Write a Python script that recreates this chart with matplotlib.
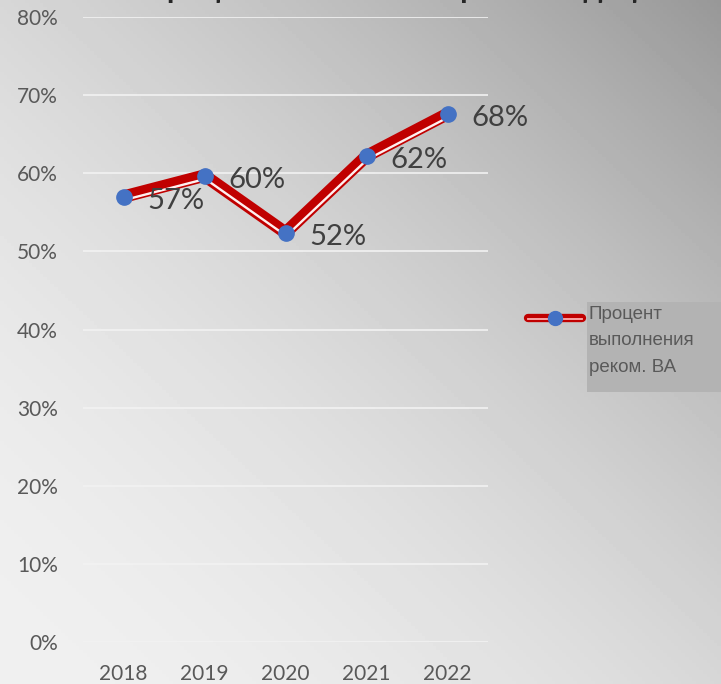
import numpy as np
import matplotlib.pyplot as plt
import matplotlib.transforms as mtransforms
from matplotlib.lines import Line2D
from matplotlib.patches import Rectangle

years = ['2018', '2019', '2020', '2021', '2022']
percent = [0.570, 0.597, 0.524, 0.622, 0.676]
point_labels = ['57%', '60%', '52%', '62%', '68%']
series_name = 'Процент\nвыполнения\nреком. ВА'
title_text = 'Процент выполнения рекомендаций ВА'

W, H = 721, 684
fig = plt.figure(figsize=(W / 100, H / 100), dpi=100)

# diagonal gradient background: light bottom-left -> dark top-right
bg = fig.add_axes([0, 0, 1, 1], zorder=-10)
u, v = np.meshgrid(np.linspace(0, 1, 200), np.linspace(1, 0, 200))
t = (u + v) / 2
shade = (0xf0 - (0xf0 - 0x98) * t ** 1.8) / 255.0
bg.imshow(shade, cmap='gray', vmin=0, vmax=1, extent=[0, 1, 0, 1], aspect='auto')
bg.set_xlim(0, 1)
bg.set_ylim(0, 1)
bg.axis('off')

ax = fig.add_axes([83 / W, 42 / H, 405 / W, 625 / H])
ax.patch.set_alpha(0)
for s in ax.spines.values():
    s.set_visible(False)

x = np.arange(len(years))
ax.set_xlim(-0.5, len(years) - 0.5)
ax.set_ylim(0, 0.8)
yt = np.arange(0, 0.81, 0.1)
ax.set_yticks(yt)
ax.set_yticklabels([f'{int(round(v * 100))}%' for v in yt])
ax.set_xticks(x)
ax.set_xticklabels(years)
ax.tick_params(axis='both', length=0, colors='#595959', labelsize=15)
ax.tick_params(axis='y', pad=18)
ax.tick_params(axis='x', pad=15.5)
for lab in ax.get_xticklabels() + ax.get_yticklabels():
    lab.set_family('Lato')
ax.grid(axis='y', color='#f2f2f2', lw=1.4, alpha=0.85)
ax.set_axisbelow(True)

# compound red/white line
ax.plot(x, percent, color='#c00000', lw=9, solid_capstyle='round',
        solid_joinstyle='miter', zorder=3)
shift = mtransforms.ScaledTranslation(0.6 / 72, -2.4 / 72, fig.dpi_scale_trans)
ax.plot(x, percent, color='#fff0f0', lw=1.7, solid_capstyle='butt',
        transform=ax.transData + shift, zorder=4)
ax.plot(x, percent, ls='none', marker='o', ms=11, mfc='#4472c4',
        mec='#4472c4', zorder=5)

for xi, yi, lab in zip(x, percent, point_labels):
    ax.annotate(lab, (xi, yi), xytext=(17, -3), textcoords='offset points',
                ha='left', va='center', fontsize=21, color='#404040',
                family='Lato', zorder=6)

# legend, drawn by hand so the key sits on the first text line
fig.add_artist(Rectangle((587 / W, 1 - 392 / H), (W - 587) / W, 90 / H,
                         transform=fig.transFigure, facecolor='#b3b3b3',
                         edgecolor='none', zorder=1))
fig.text(589 / W, 1 - 306 / H, series_name, ha='left', va='top',
         fontsize=13.5, color='#595959', family='Liberation Sans',
         linespacing=1.72, zorder=2)
ky = 1 - 318 / H
kx = [528 / W, 582 / W]
fig.add_artist(Line2D(kx, [ky, ky], transform=fig.transFigure, color='#c00000',
                      lw=6, solid_capstyle='round', zorder=2))
fig.add_artist(Line2D(kx, [ky - 1.5 / H, ky - 1.5 / H], transform=fig.transFigure,
                      color='#ffb0b0', lw=1.3, zorder=3))
fig.add_artist(Line2D([555 / W], [ky], transform=fig.transFigure, ls='none',
                      marker='o', ms=10, mfc='#4472c4', mec='#4472c4', zorder=4))

# title cut off at the top edge (only descenders show, as in the source)
fig.text(0.60, 1.003, title_text, ha='center', va='baseline', fontsize=22,
         fontweight='bold', color='#262626', family='Lato')

fig.savefig('out.png', dpi=100)
